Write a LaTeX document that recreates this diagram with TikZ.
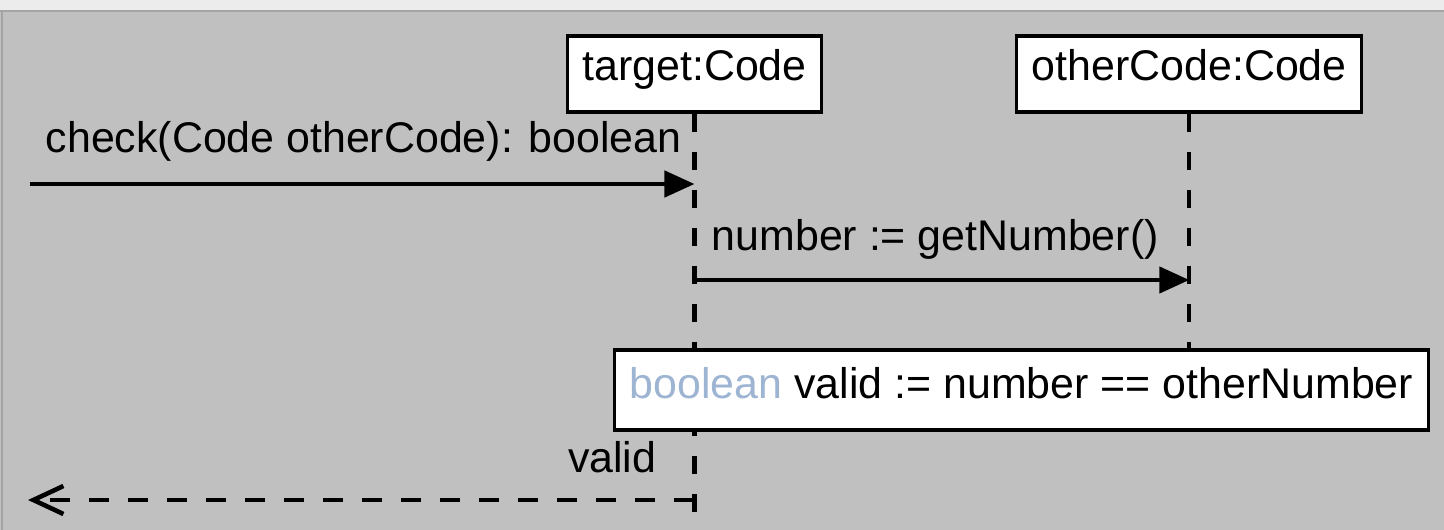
\documentclass[tikz,border=0pt]{standalone}
\usepackage{fontspec}
\setmainfont{Liberation Sans}
\usetikzlibrary{arrows.meta,positioning}
\definecolor{panelgray}{HTML}{C0C0C0}
\definecolor{topgray}{HTML}{ECECEC}
\definecolor{edgegray}{HTML}{A4A4A4}
\definecolor{typeblue}{HTML}{9DB4D2}

\begin{document}
\begin{tikzpicture}[x=0.01cm,y=-0.01cm,
  every node/.style={font=\fontsize{12.2}{14.6}\selectfont},
  object/.style={draw,fill=white,line width=0.9pt,inner xsep=0.15cm,minimum height=0.76cm,text height=0.25cm,text depth=0.13cm},
  notebox/.style={draw,fill=white,line width=0.9pt,minimum width=8.13cm,minimum height=0.8cm,text height=0.3cm,text depth=0.14cm},
  msglabel/.style={inner sep=0pt},
  lifeline/.style={line width=1.2pt,dash pattern=on 0.18cm off 0.2cm},
  msg/.style={line width=1.3pt,-{Triangle[length=0.3cm,width=0.26cm]}},
  reply/.style={line width=1.3pt,dash pattern=on 0.2cm off 0.19cm,-{Straight Barb[length=0.3cm,width=0.28cm]}}]
\useasboundingbox (0,0) rectangle (1444,530);
% panel
\fill[topgray] (0,0) rectangle (1444,11);
\fill[panelgray] (0,11) rectangle (1444,530);
\draw[edgegray,line width=0.6pt] (0,11) -- (1444,11);
\draw[edgegray,line width=0.6pt] (2,11) -- (2,530);

% objects
\node[object] (target) at (694.5,74) {target:Code};
\node[object,right=1.92cm of target] (other) {otherCode:Code};

% lifelines
\draw[lifeline] (target.south) -- (target.south |- 0,518);
\node[notebox] (note) at (1021.5,390) {\textcolor{typeblue}{boolean} valid := number == otherNumber};
\draw[lifeline] (other.south) -- (other.south |- note.north);

% messages
\coordinate (callsrc) at (30,184);
\draw[msg] (callsrc) -- (callsrc -| target.south);
\node[msglabel,anchor=base west] (calllbl) at (45,152) {check(Code otherCode): boolean};

\coordinate (getsrc) at (target.south |- 0,280);
\draw[msg] (getsrc) -- (getsrc -| other.south);
\node[msglabel,anchor=base west] (getlbl) at (711,250) {number := getNumber()};

\coordinate (retsrc) at (target.south |- 0,500);
\coordinate (retdst) at (28,500);
\draw[reply] (retsrc) -- (retdst);
\node[msglabel,anchor=base east] (retlbl) at (657,472) {valid};
\end{tikzpicture}
\end{document}
